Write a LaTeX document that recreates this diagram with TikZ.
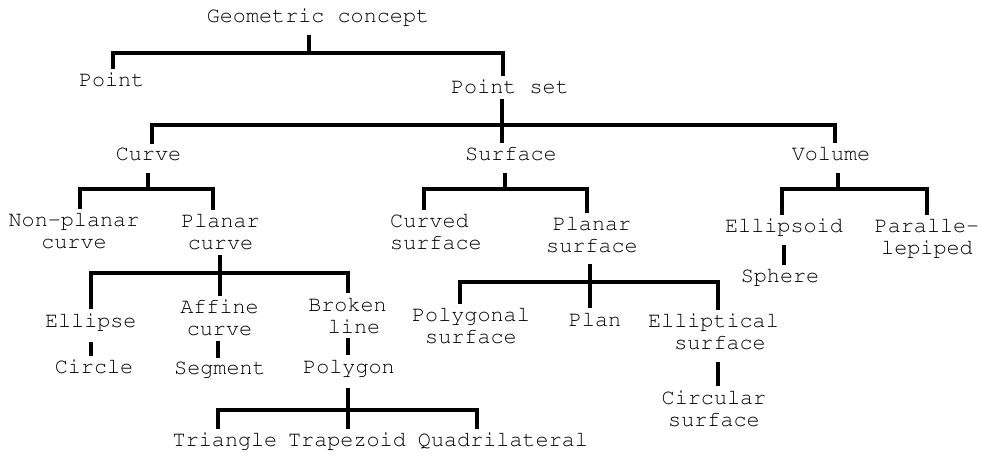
\documentclass[tikz,border=0pt]{standalone}
\usepackage[T1]{fontenc}
\usepackage{tikz}
\usetikzlibrary{calc}

\begin{document}
\begin{tikzpicture}[x=0.5pt,y=-0.5pt,
	concept/.style={inner sep=2pt, anchor=base, font=\fontfamily{pcr}\fontsize{10.9}{11}\selectfont},
	multi/.style={concept, align=center},
	branche/.style={line width=\heavy}]

%%%%%%%%%%%%%%%%%%%%%%
%%%	   Def style    %%%
%%%%%%%%%%%%%%%%%%%%%%

\def \heavy{2pt}

\useasboundingbox (0,0) rectangle (981,459);

%%%%%%%%%%%%%%%%%%%%%%
%%%	    Concepts    %%%
%%%%%%%%%%%%%%%%%%%%%%

\node[concept] (gc) at (318,23) {Geometric concept};
\node[concept] (pt) at (111.7,87) {Point};
\node[concept] (ps) at (510,94) {Point set};

% Niveau courbe / surface / volume
\node[concept] (cv) at (148.5,161) {Curve};
\node[concept] (sf) at (511,161) {Surface};
\node[concept] (vl) at (831,161) {Volume};

% (multi : la base est sur la derniere ligne)
\node[multi] (npc) at (74,249) {Non-planar\\curve};
\node[multi] (plc) at (220.5,250) {Planar\\curve};
\node[multi, align=left] (cvs) at (436,250) {Curved\\surface};
\node[multi] (pls) at (592,253) {Planar\\surface};
\node[concept] (elo) at (784,233) {Ellipsoid};
\node[multi] (ppp) at (927,255) {Paralle-\\lepiped};
\node[concept] (sph) at (780,283) {Sphere};

% Sous-arbre de la courbe plane
\node[concept] (elc) at (90.8,327.3) {Ellipse};
\node[multi] (afc) at (219.5,336) {Affine\\curve};
\node[multi] (brl) at (347.5,333.3) {Broken\\\hphantom{x}line};
\node[concept] (cir) at (94,374) {Circle};
\node[concept] (seg) at (220,375) {Segment};
\node[concept] (pgn) at (349,373.3) {Polygon};
\node[concept] (tri) at (225,447) {Triangle};
\node[concept] (trp) at (347,447) {Trapezoid};
\node[concept] (qdl) at (503,447) {Quadrilateral};

% Sous-arbre de la surface plane
\node[multi] (pgs) at (471,344) {Polygonal\\surface};
\node[concept] (pln) at (595,326.7) {Plan};
\node[multi] (els) at (713.5,350) {Elliptical\\\hphantom{x}surface};
\node[multi] (ccs) at (714,426.7) {Circular\\surface};

%%%%%%%%%%%%%%%%%%%%%%
%%%	   Branches     %%%
%%%%%%%%%%%%%%%%%%%%%%

% Geometric concept
\coordinate (j1) at (309,53);
\draw[branche, shorten <=2pt] (gc.south -| j1) -- (j1);
\draw[branche] ([xshift=0.65pt]pt.north) |- (j1) -| ([xshift=-3.5pt]ps.north);

% Point set
\coordinate (j2) at (502,125);
\draw[branche] (ps.south -| j2) -- ([xshift=-4.5pt]sf.north);
\draw[branche] ([xshift=1.75pt]cv.north) |- (j2) -| ([xshift=2pt]vl.north);

% Curve
\coordinate (j3) at (148,189);
\draw[branche, shorten <=3.5pt] (cv.south -| j3) -- (j3);
\draw[branche] ([xshift=3pt]npc.north) |- (j3) -| ([xshift=-3.75pt]plc.north);

% Surface
\coordinate (j4) at (505,189);
\draw[branche, shorten <=3.5pt] (sf.south -| j4) -- (j4);
\draw[branche] ([xshift=-6pt]cvs.north) |- (j4) -| ([xshift=-2.5pt]pls.north);

% Volume
\coordinate (j5) at (838,189);
\draw[branche, shorten <=3.5pt] (vl.south -| j5) -- (j5);
\draw[branche] ([xshift=-1pt]elo.north) |- (j5) -| (ppp.north);
\draw[branche, shorten <=2pt] (elo.south) -- (elo.south |- sph.north);

% Planar curve
\coordinate (j6) at (220,273);
\draw[branche] (plc.south -| j6) -- (afc.north -| j6);
\draw[branche] (elc.north) |- (j6) -| (brl.north);
\draw[branche, shorten <=3.5pt] (elc.south) -- (elc.south |- cir.north);
\draw[branche] ([xshift=-1pt]afc.south) -- ([xshift=-1pt]afc.south |- seg.north);
\draw[branche] (brl.south) -- (brl.south |- pgn.north);

% Polygon
\coordinate (j7) at (348,410);
\draw[branche, shorten <=3.5pt] (pgn.south -| j7) -- (trp.north -| j7);
\draw[branche] ([xshift=-3.5pt]tri.north) |- (j7) -| ([xshift=-13pt]qdl.north);

% Planar surface
\coordinate (j8) at (590,282);
\draw[branche, shorten <=3pt] (pls.south -| j8) -- (pln.north -| j8);
\draw[branche] ([xshift=-5.5pt]pgs.north) |- (j8) -| ([xshift=2.25pt]els.north);
\draw[branche, shorten <=3.5pt] ([xshift=2.25pt]els.south) -- ([xshift=2.25pt]els.south |- ccs.north);

\end{tikzpicture}
\end{document}
